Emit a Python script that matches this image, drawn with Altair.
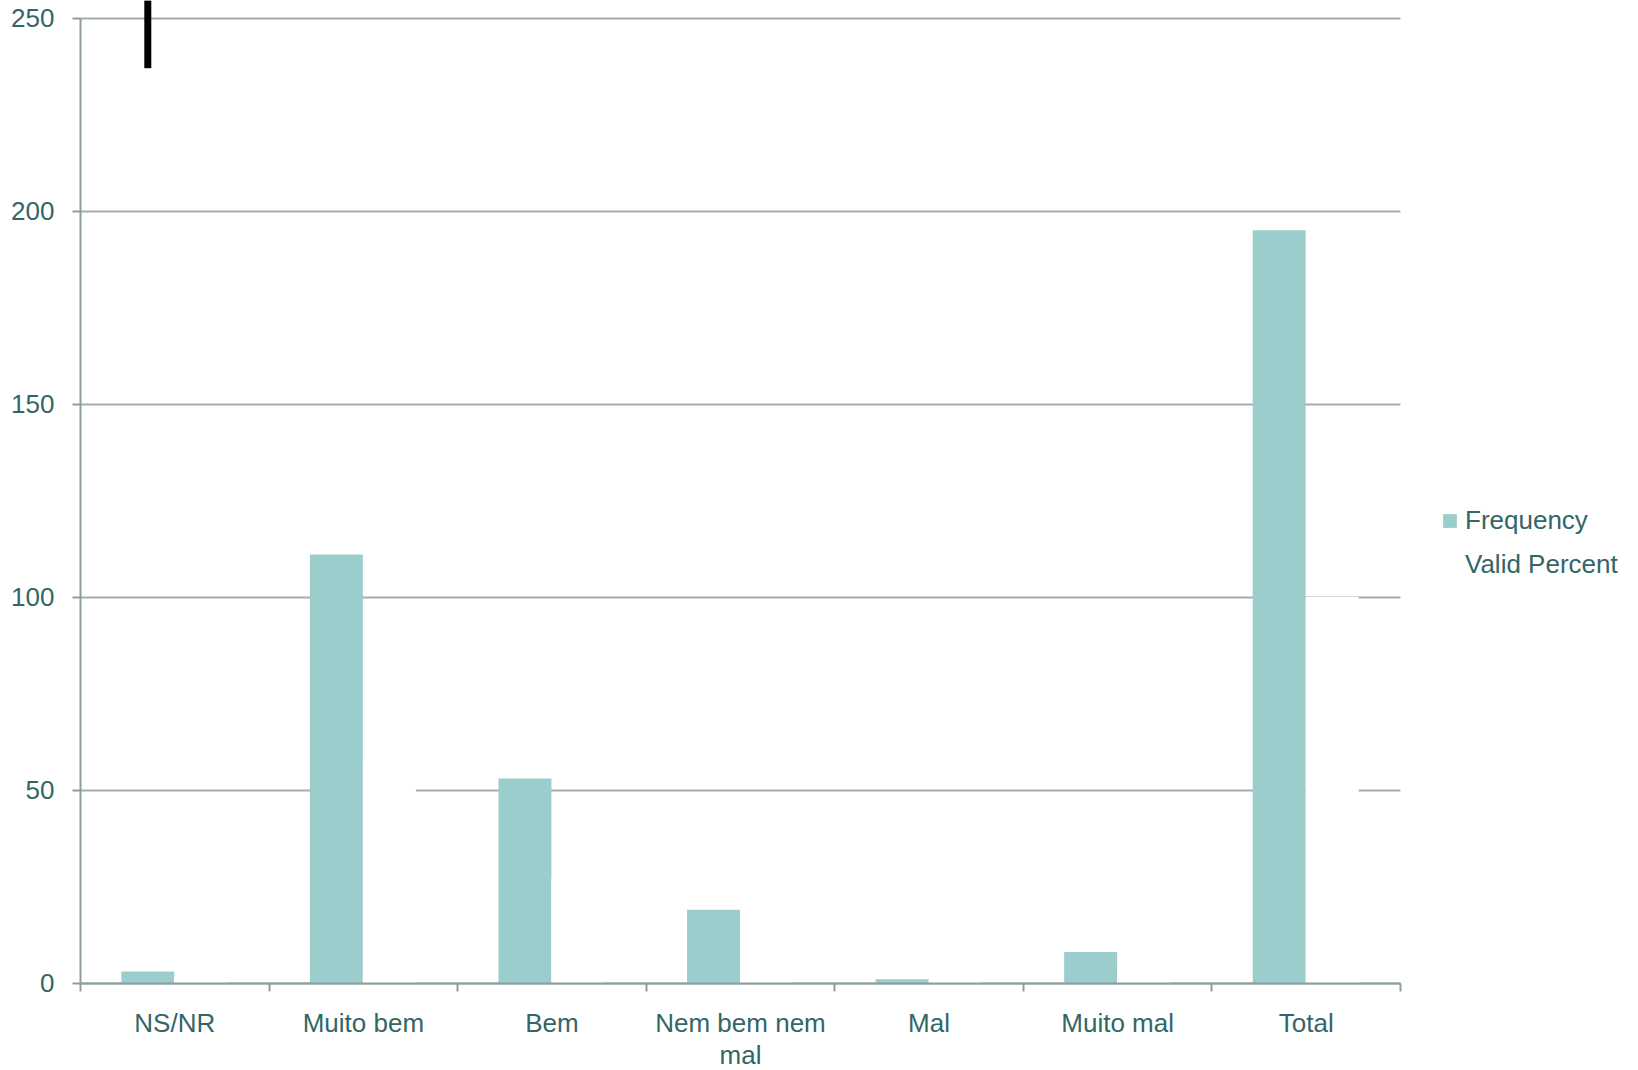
import altair as alt
import pandas as pd

# Response categories and the two series shown for each
categories = ["NS/NR", "Muito bem", "Bem", "Nem bem nem mal", "Mal", "Muito mal", "Total"]
series = ["Frequency", "Valid Percent"]
frequency = [3, 111, 53, 19, 1, 8, 195]
valid_percent = [1.5, 56.9, 27.2, 9.7, 0.5, 4.1, 100.0]
y_ticks = [0, 50, 100, 150, 200, 250]

# Short black marker standing above the NS/NR column
marker_category = ["NS/NR"]
marker_from = [237]
marker_to = [254.5]

rows = []
for cat, f, v in zip(categories, frequency, valid_percent):
    rows.append({"category": cat, "series": "Frequency", "value": f})
    rows.append({"category": cat, "series": "Valid Percent", "value": v})
bars_df = pd.DataFrame(rows)

marker_df = pd.DataFrame({
    "category": marker_category,
    "series": ["Frequency"],
    "y0": marker_from,
    "y1": marker_to,
})

TEXT = "#336666"
BAR = "#9BCDCD"
GRID = "#A4AEAE"
AXIS = "#8E9E9E"
FONT = "Liberation Sans"

x_enc = alt.X(
    "category:N",
    sort=categories,
    scale=alt.Scale(paddingInner=0, paddingOuter=0),
    axis=alt.Axis(
        title=None,
        labelAngle=0,
        tickBand="extent",
        grid=False,
        zindex=1,
        domainColor=AXIS,
        domainWidth=2,
        tickColor=AXIS,
        tickWidth=2,
        tickSize=8,
        labelPadding=19,
        labelColor=TEXT,
        labelFont=FONT,
        labelFontSize=26,
        labelLineHeight=32,
        labelExpr="datum.value == 'Nem bem nem mal' ? ['Nem bem nem', 'mal'] : datum.value",
    ),
)
xoff_enc = alt.XOffset(
    "series:N",
    sort=series,
    scale=alt.Scale(domain=series, paddingInner=0, paddingOuter=0.78),
)

bars = alt.Chart(bars_df).mark_bar().encode(
    x=x_enc,
    xOffset=xoff_enc,
    y=alt.Y(
        "value:Q",
        scale=alt.Scale(domain=[0, 250], nice=False, zero=True),
        axis=alt.Axis(
            title=None,
            values=y_ticks,
            grid=True,
            gridColor=GRID,
            gridWidth=1.8,
            domainColor=AXIS,
            domainWidth=2,
            tickColor=AXIS,
            tickWidth=2,
            tickSize=8,
            labelPadding=18,
            labelColor=TEXT,
            labelFont=FONT,
            labelFontSize=26,
        ),
    ),
    color=alt.Color(
        "series:N",
        sort=series,
        scale=alt.Scale(domain=series, range=[BAR, "#FFFFFF"]),
        legend=alt.Legend(
            title=None,
            orient="none",
            legendX=1357,
            legendY=490,
            symbolType="square",
            symbolSize=190,
            symbolStrokeWidth=0,
            labelColor=TEXT,
            labelFont=FONT,
            labelFontSize=26,
            labelOffset=2,
            rowPadding=18,
        ),
    ),
)

marker = alt.Chart(marker_df).mark_rule(color="#000000", strokeWidth=7, xOffset=2).encode(
    x=alt.X("category:N", sort=categories),
    xOffset=alt.XOffset("series:N", sort=series),
    y=alt.Y("y0:Q"),
    y2="y1:Q",
)

chart = (
    alt.layer(bars, marker)
    .properties(
        width=1320,
        height=965,
        autosize=alt.AutoSizeParams(type="none"),
        padding={"left": 80, "top": 18, "right": 238, "bottom": 87},
        background="white",
    )
    .configure_view(stroke=None)
)

chart.save("out.html", embed_options={"renderer": "svg", "actions": False})
